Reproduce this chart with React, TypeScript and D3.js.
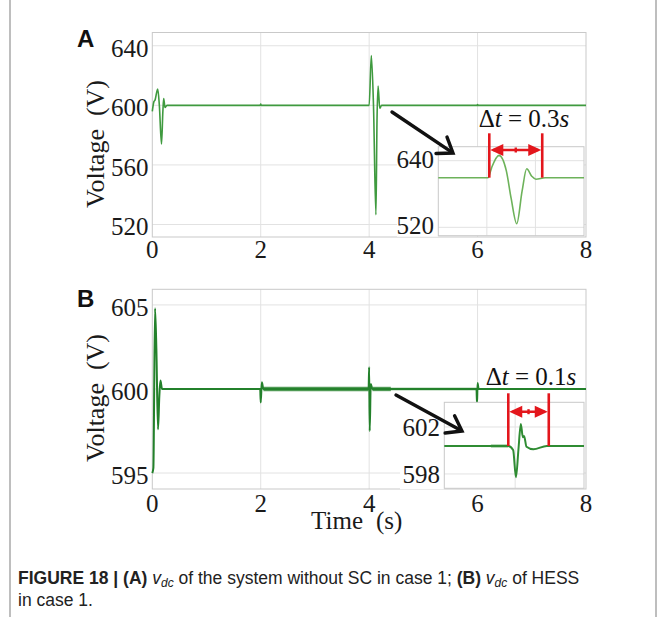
import React from 'react';
import * as d3 from 'd3';

// ---------- data ----------
const xTicks = [0, 2, 4, 6, 8];
const xGrid = [2, 4, 6];
const yTicksA = [520, 560, 600, 640];
const yTicksB = [595, 600, 605];

// Panel A: vdc without SC (time s, voltage V)
const seriesA: [number, number][] = [
  [0, 596], [0.03, 602.5], [0.05, 603.5], [0.1, 611], [0.13, 600], [0.17, 574],
  [0.195, 596], [0.21, 604.5], [0.235, 598.5], [0.27, 600],
  [1.99, 600], [2.0, 600.8], [2.01, 600],
  [4.0, 600], [4.04, 633.5], [4.08, 600], [4.125, 526.5], [4.145, 590],
  [4.165, 613], [4.195, 598], [4.23, 600],
  [5.99, 600], [6.0, 600.6], [6.01, 600], [8, 600],
];

// Panel B: vdc of HESS
const seriesB: [number, number][] = [
  [0, 595], [0.02, 595.3], [0.05, 604.8], [0.075, 602.4], [0.105, 597.6],
  [0.13, 599.6], [0.15, 600.5], [0.18, 600],
  [1.99, 600], [2.0, 599.2], [2.02, 600.4], [2.05, 600],
  [3.99, 600], [4.0, 601.3], [4.01, 597.5], [4.03, 600.3], [4.06, 600],
  [5.98, 600], [5.99, 599.1], [6.0, 600.35], [6.02, 600], [8, 600],
];
// ripple bands visible on panel B [from, to, half-amplitude]
const rippleB: [number, number, number][] = [
  [2.05, 3.99, 0.13], [4.06, 4.4, 0.13], [4.4, 5.98, 0.08],
];

// Inset A (values read on the inset's own axis)
const insetA: [number, number][] = [
  [3.8, 609.4], [4.005, 609.4], [4.02, 628], [4.05, 649.5], [4.08, 622],
  [4.1, 572], [4.123, 526.5], [4.145, 585], [4.164, 625.4], [4.185, 612],
  [4.202, 606.5], [4.24, 609.4], [4.4, 609.4],
];
const insetTicksA = [520, 640];
const insetGridXA = [4.0, 4.2];
const markA = [4.01, 4.228];

// Inset B
const insetB: [number, number][] = [
  [3.825, 600.38], [3.983, 600.38], [3.995, 600.04], [4.002, 597.72],
  [4.008, 600.04], [4.014, 602.26], [4.019, 601.12], [4.022, 601.23],
  [4.028, 600.32], [4.045, 600.1], [4.078, 600.38], [4.17, 600.38],
];
const insetRippleB: [number, number, number][] = [[3.94, 3.983, 0.12]];
const insetTicksB = [598, 602];
const insetGridXB = [4.0];
const markB = [3.983, 4.083];

// ---------- styles ----------
const SERIF = '"Liberation Serif", "DejaVu Serif", serif';
const SANS = '"Liberation Sans", Arial, sans-serif';
const GRID = '#e2e2e2';
const BORDER = '#c9c9c9';
const RED = '#e3161c';

type Box = { x0: number; x1: number; y0: number; y1: number };

function Frame({ box, xs, ys, gx, gy }: { box: Box; xs: d3.ScaleLinear<number, number>; ys: d3.ScaleLinear<number, number>; gx: number[]; gy: number[] }) {
  return (
    <g>
      <rect x={box.x0} y={box.y0} width={box.x1 - box.x0} height={box.y1 - box.y0} fill="#fff" />
      {gx.map((t) => (
        <line key={'gx' + t} x1={xs(t)} x2={xs(t)} y1={box.y0} y2={box.y1} stroke={GRID} strokeWidth={1} />
      ))}
      {gy.map((v) => (
        <line key={'gy' + v} x1={box.x0} x2={box.x1} y1={ys(v)} y2={ys(v)} stroke={GRID} strokeWidth={1} />
      ))}
      <rect x={box.x0} y={box.y0} width={box.x1 - box.x0} height={box.y1 - box.y0} fill="none" stroke={BORDER} strokeWidth={1} />
    </g>
  );
}

function Ripple({ bands, xs, ys, base, color }: { bands: [number, number, number][]; xs: any; ys: any; base: number; color: string }) {
  return (
    <g>
      {bands.map(([a, b, h], i) => {
        const area = d3.area<number>().x((d) => xs(d)).y0(ys(base - h)).y1(ys(base + h));
        return <path key={i} d={area([a, b]) || ''} fill={color} opacity={0.8} />;
      })}
    </g>
  );
}

function RedMarker({ xs, t, yTop, yBot }: { xs: any; t: number[]; yTop: number; yBot: number }) {
  return (
    <g>
      {t.map((v) => (
        <line key={v} x1={xs(v)} x2={xs(v)} y1={yTop} y2={yBot} stroke={RED} strokeWidth={2.6} />
      ))}
    </g>
  );
}

function DoubleArrow({ xa, xb, y }: { xa: number; xb: number; y: number }) {
  const L = 13, W = 6;
  const mid = (xa + xb) / 2;
  return (
    <g fill={RED} stroke="none">
      <line x1={xa + 4} x2={xb - 4} y1={y} y2={y} stroke={RED} strokeWidth={2.4} />
      <path d={`M${xa + 1},${y} L${xa + 1 + L},${y - W} L${xa + 1 + L},${y + W} Z`} />
      <path d={`M${xb - 1},${y} L${xb - 1 - L},${y - W} L${xb - 1 - L},${y + W} Z`} />
      <rect x={mid - 1.2} y={y - 2.5} width={2.4} height={5} />
    </g>
  );
}

function BlackArrow({ x1, y1, x2, y2 }: { x1: number; y1: number; x2: number; y2: number }) {
  const ang = Math.atan2(y2 - y1, x2 - x1);
  const len = 17;
  const spread = 0.62;
  const ax = x2 - len * Math.cos(ang - spread), ay = y2 - len * Math.sin(ang - spread);
  const bx = x2 - len * Math.cos(ang + spread), by = y2 - len * Math.sin(ang + spread);
  return (
    <g stroke="#111" strokeWidth={3.4} fill="none" strokeLinecap="round" strokeLinejoin="miter">
      <line x1={x1} y1={y1} x2={x2 - 2 * Math.cos(ang)} y2={y2 - 2 * Math.sin(ang)} />
      <polyline points={`${ax},${ay} ${x2},${y2} ${bx},${by}`} />
    </g>
  );
}

function DeltaT({ x, y, val }: { x: number; y: number; val: string }) {
  return (
    <text x={x} y={y} textAnchor="middle" fontFamily={SERIF} fontSize={25} fill="#111" style={{ whiteSpace: 'pre' }}>
      <tspan>Δ</tspan>
      <tspan fontStyle="italic">t</tspan>
      <tspan>{' = ' + val}</tspan>
      <tspan fontStyle="italic">s</tspan>
    </text>
  );
}

export default function App() {
  // ----- Panel A -----
  const boxA: Box = { x0: 152.3, x1: 586, y0: 32.5, y1: 237 };
  const xA = d3.scaleLinear().domain([0, 8]).range([boxA.x0, boxA.x1]);
  const yA = d3.scaleLinear().domain([511.6, 648.9]).range([boxA.y1, boxA.y0]);
  const lineA = d3.line<[number, number]>().x((d) => xA(d[0])).y((d) => yA(d[1])).curve(d3.curveMonotoneX);

  // ----- Panel B -----
  const boxB: Box = { x0: 152.3, x1: 586, y0: 289.3, y1: 489 };
  const xB = d3.scaleLinear().domain([0, 8]).range([boxB.x0, boxB.x1]);
  const yB = d3.scaleLinear().domain([594.05, 605.93]).range([boxB.y1, boxB.y0]);
  const lineB = d3.line<[number, number]>().x((d) => xB(d[0])).y((d) => yB(d[1])).curve(d3.curveMonotoneX);

  // ----- Inset A -----
  const boxIA: Box = { x0: 438.3, x1: 584, y0: 146.7, y1: 235.7 };
  const xIA = d3.scaleLinear().domain([3.8, 4.4]).range([boxIA.x0, boxIA.x1]);
  const yIA = d3.scaleLinear().domain([504.9, 665.2]).range([boxIA.y1, boxIA.y0]);
  const lineIA = d3.line<[number, number]>().x((d) => xIA(d[0])).y((d) => yIA(d[1])).curve(d3.curveMonotoneX);

  // ----- Inset B -----
  const boxIB: Box = { x0: 444.3, x1: 584, y0: 402.3, y1: 488.3 };
  const xIB = d3.scaleLinear().domain([3.825, 4.17]).range([boxIB.x0, boxIB.x1]);
  const yIB = d3.scaleLinear().domain([596.78, 604.1]).range([boxIB.y1, boxIB.y0]);
  const lineIB = d3.line<[number, number]>().x((d) => xIB(d[0])).y((d) => yIB(d[1])).curve(d3.curveMonotoneX);

  const tickFont = { fontFamily: SERIF, fontSize: 25, fill: '#1a1a1a' } as const;

  return (
    <svg width={665} height={617} style={{ position: 'absolute', left: 0, top: 0, background: '#fff' }}>
      <rect x={0} y={0} width={665} height={617} fill="#fff" />
      {/* outer figure frame */}
      <line x1={10} x2={10} y1={0} y2={617} stroke="#a8a8a8" strokeWidth={1.5} />
      <line x1={656} x2={656} y1={0} y2={617} stroke="#a8a8a8" strokeWidth={1.5} />

      {/* ================= Panel A ================= */}
      <Frame box={boxA} xs={xA} ys={yA} gx={xGrid} gy={yTicksA} />
      <path d={lineA(seriesA) || ''} fill="none" stroke="#3f9a3f" strokeWidth={1.6} />
      {yTicksA.map((v) => (
        <text key={v} x={148.5} y={yA(v) + 11} textAnchor="end" {...tickFont}>{v}</text>
      ))}
      {xTicks.map((t) => (
        <text key={t} x={xA(t)} y={258} textAnchor="middle" {...tickFont}>{t}</text>
      ))}
      <text transform={`translate(104,144) rotate(-90)`} textAnchor="middle" fontFamily={SERIF} fontSize={26} fill="#1a1a1a" style={{ whiteSpace: 'pre' }}>Voltage  (V)</text>
      <text x={77} y={47} fontFamily={SANS} fontWeight="bold" fontSize={24} fill="#111">A</text>

      {/* inset A */}
      <rect x={397} y={boxIA.y0} width={boxIA.x0 - 397} height={boxIA.y1 - boxIA.y0 + 1} fill="#fff" />
      <Frame box={boxIA} xs={xIA} ys={yIA} gx={insetGridXA} gy={insetTicksA} />
      <path d={lineIA(insetA) || ''} fill="none" stroke="#6db25a" strokeWidth={1.6} />
      {insetTicksA.map((v) => (
        <text key={v} x={434} y={yIA(v) + 7} textAnchor="end" {...tickFont}>{v}</text>
      ))}
      <RedMarker xs={xIA} t={markA} yTop={133.3} yBot={yIA(609.4)} />
      <DoubleArrow xa={xIA(markA[0])} xb={xIA(markA[1])} y={150} />
      <DeltaT x={524} y={127} val="0.3" />
      <BlackArrow x1={392} y1={112} x2={453} y2={153} />

      {/* ================= Panel B ================= */}
      <Frame box={boxB} xs={xB} ys={yB} gx={xGrid} gy={yTicksB} />
      <Ripple bands={rippleB} xs={xB} ys={yB} base={600} color="#23812b" />
      <path d={lineB(seriesB) || ''} fill="none" stroke="#23812b" strokeWidth={2} />
      {yTicksB.map((v) => (
        <text key={v} x={148.5} y={yB(v) + 11} textAnchor="end" {...tickFont}>{v}</text>
      ))}
      {xTicks.map((t) => (
        <text key={t} x={xB(t)} y={512} textAnchor="middle" {...tickFont}>{t}</text>
      ))}
      <text transform={`translate(104,398) rotate(-90)`} textAnchor="middle" fontFamily={SERIF} fontSize={26} fill="#1a1a1a" style={{ whiteSpace: 'pre' }}>Voltage  (V)</text>
      <text x={77} y={307} fontFamily={SANS} fontWeight="bold" fontSize={24} fill="#111">B</text>
      <text x={363} y={529} textAnchor="end" {...tickFont}>Time</text>
      <text x={376} y={529} textAnchor="start" {...tickFont}>(s)</text>

      {/* inset B */}
      <rect x={400} y={boxIB.y0} width={boxIB.x0 - 400} height={boxIB.y1 - boxIB.y0 + 1} fill="#fff" />
      <Frame box={boxIB} xs={xIB} ys={yIB} gx={insetGridXB} gy={insetTicksB} />
      <Ripple bands={insetRippleB} xs={xIB} ys={yIB} base={600.38} color="#2f8c33" />
      <path d={lineIB(insetB) || ''} fill="none" stroke="#2f8c33" strokeWidth={2} />
      {insetTicksB.map((v) => (
        <text key={v} x={440} y={yIB(v) + 9} textAnchor="end" {...tickFont}>{v}</text>
      ))}
      <RedMarker xs={xIB} t={markB} yTop={393.3} yBot={yIB(600.38)} />
      <DoubleArrow xa={xIB(markB[0])} xb={xIB(markB[1])} y={411.7} />
      <DeltaT x={531} y={385} val="0.1" />
      <BlackArrow x1={396} y1={395} x2={462} y2={431} />

      {/* ================= Caption ================= */}
      <text x={18} y={584} fontFamily={SANS} fontSize={17.5} fill="#222">
        <tspan fontWeight="bold">FIGURE 18 | (A) </tspan>
        <tspan fontStyle="italic">v</tspan>
        <tspan fontStyle="italic" fontSize={12} dy={3}>dc</tspan>
        <tspan dy={-3}> of the system without SC in case 1; </tspan>
        <tspan fontWeight="bold">(B) </tspan>
        <tspan fontStyle="italic">v</tspan>
        <tspan fontStyle="italic" fontSize={12} dy={3}>dc</tspan>
        <tspan dy={-3}> of HESS</tspan>
      </text>
      <text x={18} y={606} fontFamily={SANS} fontSize={17.5} fill="#222">in case 1.</text>
    </svg>
  );
}
